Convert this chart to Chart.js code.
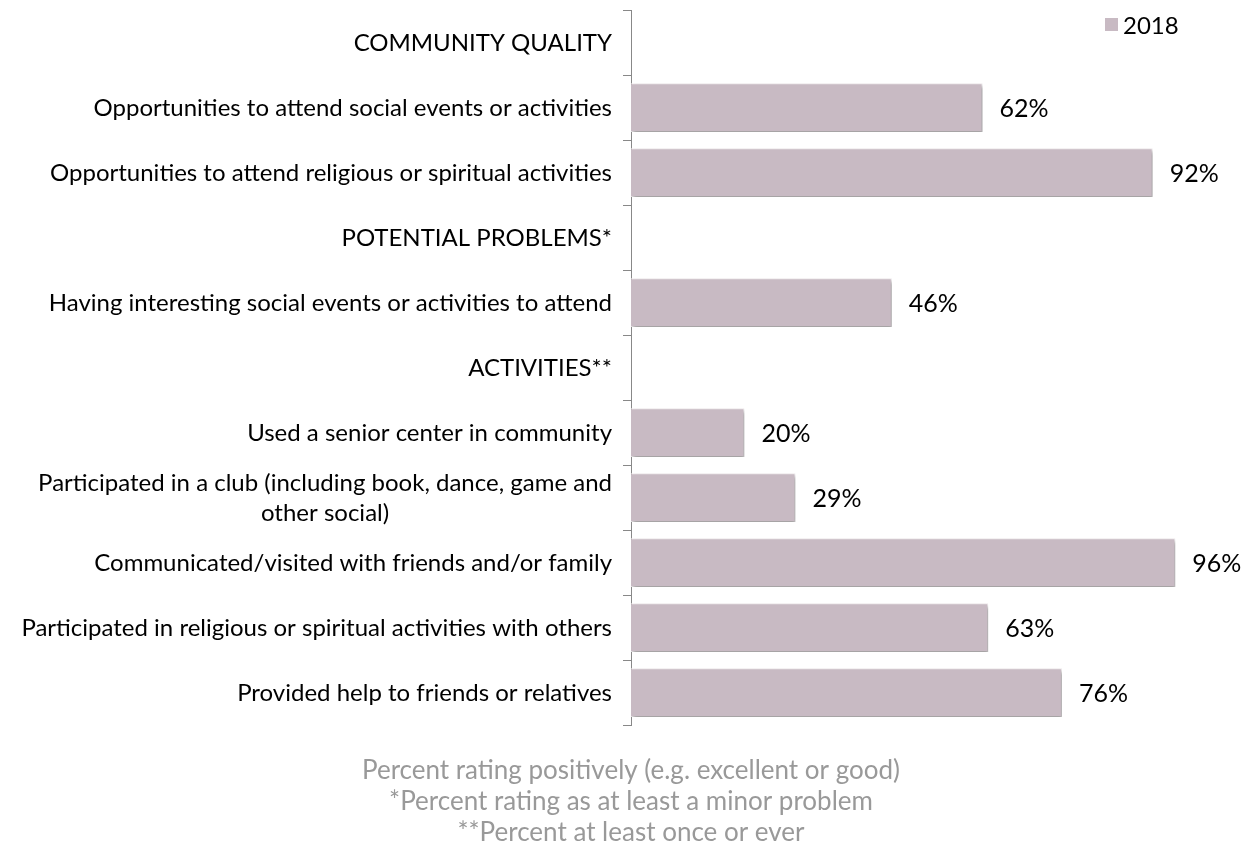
<!DOCTYPE html>
<html>
<head>
<meta charset="utf-8">
<script src="https://cdn.jsdelivr.net/npm/chart.js@4"></script>
<style>
  html, body { margin: 0; padding: 0; background: #fff; }
  #wrap { width: 1253px; height: 845px; }
</style>
</head>
<body>
<div id="wrap"><canvas id="chart" width="1253" height="845"></canvas></div>
<script>
const categories = [
  "COMMUNITY QUALITY",
  "Opportunities to attend social events or activities",
  "Opportunities to attend religious or spiritual activities",
  "POTENTIAL PROBLEMS*",
  "Having interesting social events or activities to attend",
  "ACTIVITIES**",
  "Used a senior center in community",
  ["Participated in a club (including book, dance, game and", "other social)"],
  "Communicated/visited with friends and/or family",
  "Participated in religious or spiritual activities with others",
  "Provided help to friends or relatives"
];
const values2018 = [null, 62, 92, null, 46, null, 20, 29, 96, 63, 76];
const footnotes = [
  "Percent rating positively (e.g. excellent or good)",
  "*Percent rating as at least a minor problem",
  "**Percent at least once or ever"
];

const FONT = "Lato, 'Open Sans', sans-serif";
const BAR_COLOR = "#c8bac3";

// bars get a soft drop shadow
const shadowPlugin = {
  id: "barShadow",
  beforeDatasetsDraw(chart) {
    const ctx = chart.ctx;
    ctx.save();
    ctx.shadowColor = "rgba(0,0,0,0.35)";
    ctx.shadowOffsetX = 2;
    ctx.shadowOffsetY = 3;
    ctx.shadowBlur = 4;
  },
  afterDatasetsDraw(chart) {
    chart.ctx.restore();
  }
};

// value labels at the end of each bar
const valueLabels = {
  id: "valueLabels",
  afterDatasetsDraw(chart) {
    const ctx = chart.ctx;
    const meta = chart.getDatasetMeta(0);
    ctx.save();
    ctx.font = "25px " + FONT;
    ctx.fillStyle = "#000";
    ctx.textAlign = "left";
    ctx.textBaseline = "middle";
    meta.data.forEach((bar, i) => {
      const v = values2018[i];
      if (v == null) return;
      ctx.fillText(v + "%", bar.x + 17, bar.y + 1);
    });
    ctx.restore();
  }
};

// category labels: right aligned, wrapped label centred on itself
const categoryLabels = {
  id: "categoryLabels",
  afterDraw(chart) {
    const ctx = chart.ctx;
    const y = chart.scales.y;
    const right = y.right - 19;
    ctx.save();
    ctx.font = "24px " + FONT;
    ctx.fillStyle = "#000";
    ctx.textBaseline = "middle";
    categories.forEach((lab, i) => {
      const cy = y.getPixelForValue(i) + 1;
      if (Array.isArray(lab)) {
        const widest = Math.max(...lab.map(l => ctx.measureText(l).width));
        const lh = 30;
        ctx.textAlign = "center";
        lab.forEach((l, k) => {
          ctx.fillText(l, right - widest / 2, cy + (k - (lab.length - 1) / 2) * lh);
        });
      } else {
        ctx.textAlign = "right";
        ctx.fillText(lab, right, cy);
      }
    });
    ctx.restore();
  }
};

// legend in the top right corner, over the plot
const cornerLegend = {
  id: "cornerLegend",
  afterDraw(chart) {
    const ctx = chart.ctx;
    const ds = chart.data.datasets[0];
    ctx.save();
    ctx.fillStyle = ds.backgroundColor;
    ctx.fillRect(1105, 18, 13, 13);
    ctx.font = "24px " + FONT;
    ctx.fillStyle = "#000";
    ctx.textAlign = "left";
    ctx.textBaseline = "middle";
    ctx.fillText(ds.label, 1123, 26);
    ctx.restore();
  }
};

new Chart(document.getElementById("chart").getContext("2d"), {
  type: "bar",
  data: {
    labels: categories,
    datasets: [{
      label: "2018",
      data: values2018,
      backgroundColor: BAR_COLOR,
      borderColor: "#f2eef0",
      borderWidth: 1,
      categoryPercentage: 1,
      barPercentage: 0.75
    }]
  },
  options: {
    indexAxis: "y",
    responsive: false,
    animation: false,
    // left padding keeps the footnote centred under the axis
    layout: { padding: { top: 10, right: 55, left: 64, bottom: 0 } },
    scales: {
      x: { display: false, min: 0, max: 100 },
      y: {
        afterFit(scale) {
          scale.width = 567;
          scale.paddingTop = 0;
          scale.paddingBottom = 0;
        },
        border: { color: "#888", width: 1 },
        grid: { drawOnChartArea: false, tickLength: 8, color: "#888", offset: true },
        ticks: { display: false }
      }
    },
    plugins: {
      tooltip: { enabled: false },
      legend: { display: false },
      title: {
        display: true,
        position: "bottom",
        text: footnotes,
        color: "#999",
        font: { family: FONT, size: 26, weight: "normal", lineHeight: 31 / 26 },
        padding: { top: 30, bottom: -3 }
      }
    }
  },
  plugins: [shadowPlugin, valueLabels, categoryLabels, cornerLegend]
});
</script>
</body>
</html>
